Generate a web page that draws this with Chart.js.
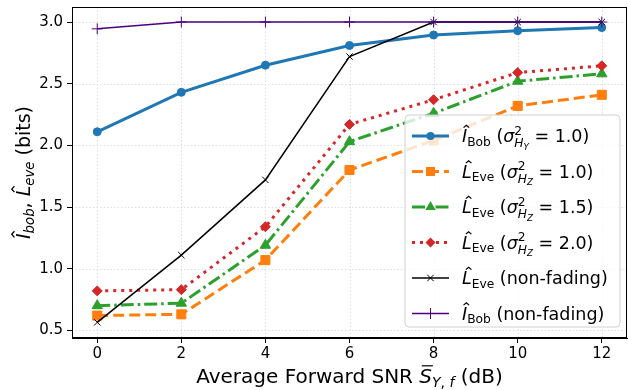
<!DOCTYPE html>
<html>
<head>
<meta charset="utf-8">
<script src="https://cdn.jsdelivr.net/npm/chart.js@4.4.1/dist/chart.umd.min.js"></script>
<style>
html, body { margin: 0; padding: 0; background: #fff; }
#wrap { width: 628px; height: 390px; }
</style>
</head>
<body>
<div id="wrap"><canvas id="myChart" width="628" height="390"></canvas></div>
<script>
// values
const snrDb = [0, 2, 4, 6, 8, 10, 12];
const bobFading = [2.11, 2.43, 2.65, 2.81, 2.895, 2.93, 2.955];
const eveSigma10 = [0.62, 0.63, 1.07, 1.80, 2.04, 2.32, 2.41];
const eveSigma15 = [0.70, 0.72, 1.19, 2.03, 2.26, 2.52, 2.58];
const eveSigma20 = [0.82, 0.83, 1.34, 2.17, 2.37, 2.59, 2.645];
const eveNonFading = [0.565, 1.11, 1.72, 2.72, 3.0, 3.0, 3.0];
const bobNonFading = [2.945, 3.0, 3.0, 3.0, 3.0, 3.0, 3.0];
const xTicks = [0, 2, 4, 6, 8, 10, 12];
const yTicks = [0.5, 1.0, 1.5, 2.0, 2.5, 3.0];

const FONT = '"DejaVu Sans"';
// plot box in canvas pixels
const AREA = { left: 72, right: 627, top: 7, bottom: 338 };

// legend label pieces (mathtext-like)
function sigmaLabel(who, sub, val) {
    return [
        { t: who === 'Bob' ? 'I' : 'L', it: true, hat: true },
        { t: who, sc: 0.7, dy: 0.22 },
        { t: ' (' },
        { t: 'σ', it: true },
        { t: '2', sc: 0.7, dy: -0.42 },
        { t: 'H', it: true, sc: 0.7, dy: 0.3, back: true },
        { t: sub, it: true, sc: 0.5, dy: 0.45 },
        { t: ' = ' + val + ')' }
    ];
}
function plainLabel(who, txt) {
    return [
        { t: who === 'Bob' ? 'I' : 'L', it: true, hat: true },
        { t: who, sc: 0.7, dy: 0.22 },
        { t: ' ' + txt }
    ];
}

const series = [
    { parts: sigmaLabel('Bob', 'Y', '1.0'), data: bobFading, color: '#1f77b4', width: 3, dash: [], marker: 'circle', r: 4 },
    { parts: sigmaLabel('Eve', 'Z', '1.0'), data: eveSigma10, color: '#ff7f0e', width: 3, dash: [11, 5], marker: 'rect', r: 6.4 },
    { parts: sigmaLabel('Eve', 'Z', '1.5'), data: eveSigma15, color: '#2ca02c', width: 3, dash: [13, 4, 2.5, 4], marker: 'triangle', r: 6 },
    { parts: sigmaLabel('Eve', 'Z', '2.0'), data: eveSigma20, color: '#d62728', width: 3, dash: [3, 5], marker: 'rectRot', r: 5 },
    { parts: plainLabel('Eve', '(non-fading)'), data: eveNonFading, color: '#000000', width: 1.5, dash: [], marker: 'crossRot', r: 4.5 },
    { parts: plainLabel('Bob', '(non-fading)'), data: bobNonFading, color: '#4b0082', width: 1.5, dash: [], marker: 'cross', r: 5.5 }
];

function drawRich(ctx, parts, x, y, size) {
    let cx = x, prevX = x;
    parts.forEach(p => {
        const s = size * (p.sc || 1);
        ctx.font = (p.it ? 'italic ' : '') + s + 'px ' + FONT;
        if (p.back) cx = prevX;
        const w = ctx.measureText(p.t).width;
        const by = y + (p.dy || 0) * size;
        ctx.fillText(p.t, cx, by);
        if (p.hat) {
            const hx = cx + w * 0.5 + 0.1 * s;
            ctx.save();
            ctx.lineWidth = s * 0.07;
            ctx.beginPath();
            ctx.moveTo(hx - 0.16 * s, by - 0.82 * s);
            ctx.lineTo(hx, by - 0.96 * s);
            ctx.lineTo(hx + 0.16 * s, by - 0.82 * s);
            ctx.stroke();
            ctx.restore();
        }
        if (p.bar) {
            ctx.save();
            ctx.lineWidth = s * 0.06;
            ctx.beginPath();
            ctx.moveTo(cx + 0.12 * s, by - 0.86 * s);
            ctx.lineTo(cx + w + 0.04 * s, by - 0.86 * s);
            ctx.stroke();
            ctx.restore();
        }
        prevX = cx;
        cx += w;
    });
    return cx - x;
}

function measureRich(ctx, parts, size) {
    let cx = 0, prevX = 0, maxX = 0;
    parts.forEach(p => {
        const s = size * (p.sc || 1);
        ctx.font = (p.it ? 'italic ' : '') + s + 'px ' + FONT;
        if (p.back) cx = prevX;
        const w = ctx.measureText(p.t).width;
        prevX = cx;
        cx += w;
        maxX = Math.max(maxX, cx);
    });
    return maxX;
}

function drawMarker(ctx, kind, x, y, r, color) {
    ctx.save();
    ctx.setLineDash([]);
    ctx.fillStyle = color;
    ctx.strokeStyle = color;
    ctx.lineWidth = 1;
    ctx.beginPath();
    if (kind === 'circle') {
        ctx.arc(x, y, r, 0, Math.PI * 2);
        ctx.fill();
    } else if (kind === 'rect') {
        const h = r * Math.SQRT1_2;
        ctx.rect(x - h, y - h, 2 * h, 2 * h);
        ctx.fill();
    } else if (kind === 'triangle') {
        ctx.moveTo(x, y - r);
        ctx.lineTo(x + r * 0.866, y + r * 0.5);
        ctx.lineTo(x - r * 0.866, y + r * 0.5);
        ctx.closePath();
        ctx.fill();
    } else if (kind === 'rectRot') {
        ctx.moveTo(x, y - r);
        ctx.lineTo(x + r, y);
        ctx.lineTo(x, y + r);
        ctx.lineTo(x - r, y);
        ctx.closePath();
        ctx.fill();
    } else if (kind === 'crossRot') {
        const h = r * Math.SQRT1_2;
        ctx.moveTo(x - h, y - h); ctx.lineTo(x + h, y + h);
        ctx.moveTo(x - h, y + h); ctx.lineTo(x + h, y - h);
        ctx.stroke();
    } else if (kind === 'cross') {
        ctx.moveTo(x - r, y); ctx.lineTo(x + r, y);
        ctx.moveTo(x, y - r); ctx.lineTo(x, y + r);
        ctx.stroke();
    }
    ctx.restore();
}

// pin the plot box to the same place as in the figure
const areaPlugin = {
    id: 'fixedArea',
    afterLayout(chart) {
        const a = chart.chartArea;
        a.left = AREA.left; a.right = AREA.right; a.top = AREA.top; a.bottom = AREA.bottom;
        a.width = AREA.right - AREA.left; a.height = AREA.bottom - AREA.top;
        const x = chart.scales.x, y = chart.scales.y;
        x.left = AREA.left; x.right = AREA.right; x.width = a.width;
        x.top = AREA.bottom; x.bottom = chart.height; x.height = chart.height - AREA.bottom;
        y.left = 0; y.right = AREA.left; y.width = AREA.left;
        y.top = AREA.top; y.bottom = AREA.bottom; y.height = a.height;
        x.configure();
        y.configure();
    }
};

// dotted grid behind the lines
const gridPlugin = {
    id: 'dottedGrid',
    beforeDatasetsDraw(chart) {
        const { ctx, chartArea: a, scales } = chart;
        ctx.save();
        ctx.strokeStyle = '#d6d6d6';
        ctx.lineWidth = 0.8;
        ctx.setLineDash([1.5, 2]);
        xTicks.forEach(v => {
            const px = Math.round(scales.x.getPixelForValue(v)) + 0.5;
            ctx.beginPath(); ctx.moveTo(px, a.top); ctx.lineTo(px, a.bottom); ctx.stroke();
        });
        yTicks.forEach(v => {
            const py = Math.round(scales.y.getPixelForValue(v)) + 0.5;
            ctx.beginPath(); ctx.moveTo(a.left, py); ctx.lineTo(a.right, py); ctx.stroke();
        });
        ctx.restore();
    },
    afterDatasetsDraw(chart) {
        const { ctx, chartArea: a } = chart;
        ctx.save();
        ctx.strokeStyle = '#000';
        ctx.lineWidth = 1;
        ctx.strokeRect(a.left + 0.5, a.top + 0.5, a.right - a.left - 1, a.bottom - a.top - 1);
        ctx.restore();
    }
};

// axis titles and the legend box, drawn on top
const overlayPlugin = {
    id: 'overlay',
    afterDraw(chart) {
        const { ctx, chartArea: a } = chart;
        ctx.save();
        ctx.fillStyle = '#000';
        ctx.strokeStyle = '#000';
        ctx.textBaseline = 'alphabetic';

        // x title
        const xParts = [
            { t: 'Average Forward SNR ' },
            { t: 'S', it: true, bar: true },
            { t: 'Y', it: true, sc: 0.7, dy: 0.22 },
            { t: ', ', sc: 0.7, dy: 0.22 },
            { t: 'f', it: true, sc: 0.7, dy: 0.22 },
            { t: ' (dB)' }
        ];
        const xs = 20;
        const xw = measureRich(ctx, xParts, xs);
        drawRich(ctx, xParts, (a.left + a.right) / 2 - xw / 2, 383, xs);

        // y title
        const yParts = [
            { t: 'I', it: true, hat: true },
            { t: 'bob', it: true, sc: 0.7, dy: 0.22 },
            { t: ', ' },
            { t: 'L', it: true, hat: true },
            { t: 'eve', it: true, sc: 0.7, dy: 0.22 },
            { t: ' (bits)' }
        ];
        const ys = 19;
        const yw = measureRich(ctx, yParts, ys);
        ctx.save();
        ctx.translate(30, (a.top + a.bottom) / 2);
        ctx.rotate(-Math.PI / 2);
        drawRich(ctx, yParts, -yw / 2, 0, ys);
        ctx.restore();

        // legend
        const bx = 405, by = 115, bw = 215, bh = 212, rad = 4;
        ctx.beginPath();
        ctx.moveTo(bx + rad, by);
        ctx.lineTo(bx + bw - rad, by);
        ctx.arcTo(bx + bw, by, bx + bw, by + rad, rad);
        ctx.lineTo(bx + bw, by + bh - rad);
        ctx.arcTo(bx + bw, by + bh, bx + bw - rad, by + bh, rad);
        ctx.lineTo(bx + rad, by + bh);
        ctx.arcTo(bx, by + bh, bx, by + bh - rad, rad);
        ctx.lineTo(bx, by + rad);
        ctx.arcTo(bx, by, bx + rad, by, rad);
        ctx.closePath();
        ctx.fillStyle = 'rgba(255,255,255,0.8)';
        ctx.fill();
        ctx.strokeStyle = '#d0d0d0';
        ctx.lineWidth = 1;
        ctx.stroke();

        series.forEach((s, i) => {
            const ry = 136 + i * 35.5;
            ctx.save();
            ctx.strokeStyle = s.color;
            ctx.lineWidth = s.width;
            ctx.setLineDash(s.dash);
            ctx.beginPath();
            ctx.moveTo(412, ry);
            ctx.lineTo(449, ry);
            ctx.stroke();
            ctx.restore();
            drawMarker(ctx, s.marker, 430.5, ry, s.r, s.color);
            ctx.fillStyle = '#000';
            ctx.strokeStyle = '#000';
            drawRich(ctx, s.parts, 462, ry + 6, 17.5);
        });
        ctx.restore();
    }
};

function initChart() {
    const canvas = document.getElementById('myChart');
    const datasets = series.map((s, i) => ({
        data: snrDb.map((x, k) => ({ x: x, y: s.data[k] })),
        borderColor: s.color,
        backgroundColor: s.color,
        borderWidth: s.width,
        borderDash: s.dash,
        pointStyle: s.marker,
        pointRadius: s.r,
        pointBorderWidth: 1,
        pointBorderColor: s.color,
        pointBackgroundColor: s.color,
        tension: 0,
        fill: false,
        order: series.length - i
    }));

    new Chart(canvas, {
        type: 'line',
        data: { datasets: datasets },
        options: {
            responsive: false,
            animation: false,
            devicePixelRatio: 1,
            layout: { padding: { top: 7, right: 1, left: 0, bottom: 0 } },
            plugins: { legend: { display: false }, tooltip: { enabled: false } },
            scales: {
                x: {
                    type: 'linear',
                    min: -0.6,
                    max: 12.6,
                    afterBuildTicks: sc => { sc.ticks = xTicks.map(v => ({ value: v })); },
                    afterFit: sc => { sc.height = 52; },
                    ticks: {
                        autoSkip: false, maxRotation: 0, padding: 2,
                        color: '#000',
                        font: { family: 'DejaVu Sans', size: 15 },
                        callback: v => String(v)
                    },
                    grid: { drawOnChartArea: false, drawTicks: true, tickLength: 5, tickColor: '#000', tickWidth: 1 },
                    border: { display: true, color: '#000', width: 1 }
                },
                y: {
                    type: 'linear',
                    min: 0.438,
                    max: 3.122,
                    afterBuildTicks: sc => { sc.ticks = yTicks.map(v => ({ value: v })); },
                    afterFit: sc => { sc.width = 72; },
                    ticks: {
                        padding: 4,
                        color: '#000',
                        font: { family: 'DejaVu Sans', size: 15 },
                        callback: v => v.toFixed(1)
                    },
                    grid: { drawOnChartArea: false, drawTicks: true, tickLength: 5, tickColor: '#000', tickWidth: 1 },
                    border: { display: true, color: '#000', width: 1 }
                }
            }
        },
        plugins: [areaPlugin, gridPlugin, overlayPlugin]
    });
}

document.addEventListener('DOMContentLoaded', initChart);
</script>
</body>
</html>
